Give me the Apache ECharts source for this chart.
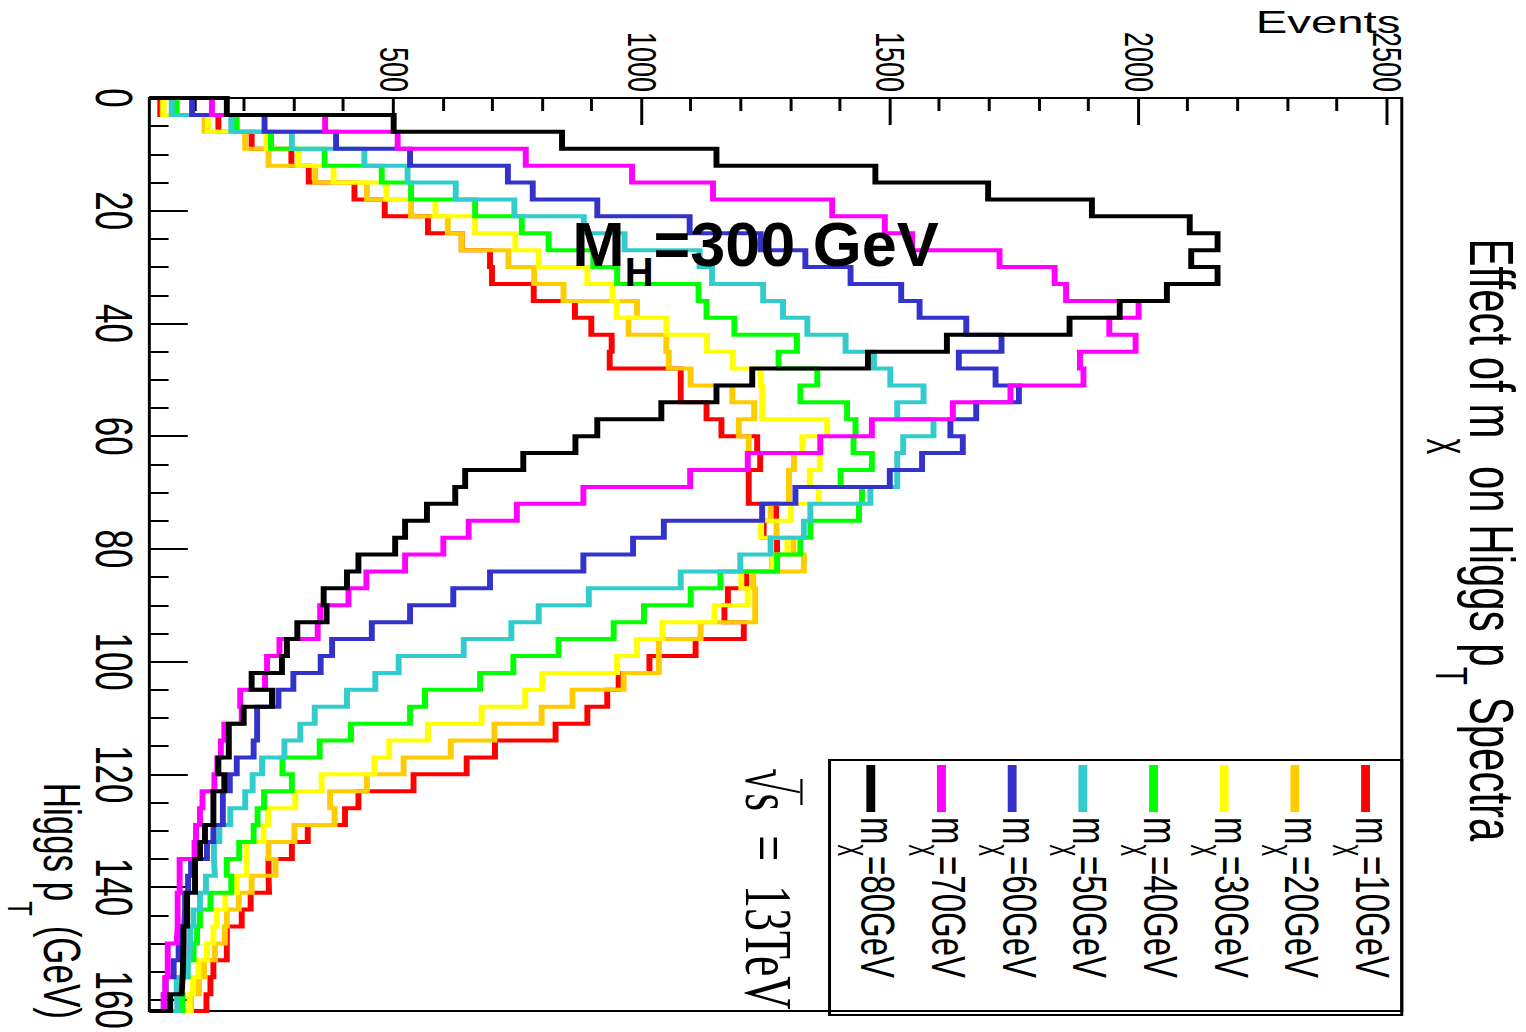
<!DOCTYPE html>
<html>
<head>
<meta charset="utf-8">
<script src="https://cdn.jsdelivr.net/npm/echarts@6/dist/echarts.min.js"></script>
<style>
html,body{margin:0;padding:0;background:#fff;overflow:hidden;width:1526px;height:1032px;}
/* ROOT canvas is square, rotated 90deg clockwise and stretched horizontally */
#chart{position:absolute;left:0;top:0;width:1032px;height:1032px;transform-origin:0 0;
  transform:scaleX(1.47868) translateX(1032px) rotate(90deg);}
</style>
</head>
<body>
<div id="chart"></div>
<script>
// ---------------- data ----------------
const BIN_WIDTH = 3;          // GeV per bin
const PT_MIN = 0, PT_MAX = 162;
const EV_MIN = 8, EV_MAX = 2530;

const ptTickLabels = [0, 20, 40, 60, 80, 100, 120, 140, 160];
const ptMinorTicks = [5,10,15,25,30,35,45,50,55,65,70,75,85,90,95,105,110,115,125,130,135,145,150,155];
const evTickLabels = [500, 1000, 1500, 2000, 2500];
const evMinorTicks = [100,200,300,400,600,700,800,900,1100,1200,1300,1400,1600,1700,1800,1900,2100,2200,2300,2400];

const mxValues = ['10', '20', '30', '40', '50', '60', '70', '80'];
const mxColors = ['#ff0000', '#ffcc00', '#ffff00', '#00ff00', '#33cccc', '#3333cc', '#ff00ff', '#000000'];

const h_mx10 = [30,147,214,294,329,421,482,569,637,694,698,782,865,898,939,935,1078,1078,1130,1160,1232,1238,1215,1215,1270,1245,1272,1263,1210,1173,1166,1205,1108,1015,953,930,890,826,704,647,540,429,402,327,295,248,249,212,194,164,164,137,131,123];
const h_mx20 = [35,119,201,248,342,446,535,609,637,731,783,842,990,973,1049,1054,1098,1182,1226,1195,1215,1306,1296,1296,1259,1271,1305,1326,1224,1228,1228,1118,1034,1034,963,860,798,703,615,520,446,372,381,300,248,262,214,188,164,160,140,118,108,92];
const h_mx30 = [37,126,244,308,379,485,584,664,745,792,890,941,949,1049,1131,1183,1239,1242,1242,1373,1323,1358,1338,1356,1300,1240,1293,1263,1200,1213,1146,1041,990,950,799,765,677,569,491,461,355,302,247,238,204,204,184,161,144,137,124,107,96,89];
const h_mx40 = [63,184,253,361,476,535,664,758,812,902,950,1114,1130,1186,1312,1275,1353,1319,1413,1430,1426,1463,1400,1443,1437,1339,1319,1272,1158,1098,1004,943,832,741,674,563,533,414,351,276,295,239,226,218,189,164,173,131,110,104,97,85,65,75];
const h_mx50 = [53,173,295,441,528,625,743,883,965,1116,1141,1244,1284,1333,1410,1467,1500,1567,1514,1587,1526,1514,1514,1460,1339,1326,1259,1198,1078,893,792,737,641,510,463,406,341,312,280,235,216,201,171,149,138,140,122,110,97,90,88,85,63,65];
const h_mx60 = [94,240,384,533,730,780,910,1096,1239,1329,1420,1522,1559,1653,1724,1638,1712,1759,1673,1621,1646,1564,1499,1309,1242,1044,982,882,694,620,533,456,376,353,298,268,225,225,218,184,170,156,156,137,124,92,86,80,78,75,67,57,41,37];
const h_mx70 = [134,362,508,766,980,1143,1383,1489,1544,1720,1831,1854,2000,1941,1994,1882,1889,1742,1626,1463,1359,1213,1097,882,748,651,600,523,445,409,352,347,270,245,241,191,194,159,152,145,139,115,110,102,99,69,69,65,65,63,45,45,40,37];
const h_mx80 = [164,500,839,1150,1470,1697,1906,2103,2159,2106,2159,2057,1962,1861,1614,1455,1222,1150,1039,910,866,761,644,624,567,523,503,429,406,359,365,306,285,275,214,255,198,168,168,147,159,137,137,120,110,100,100,84,84,77,76,75,73,50];

const histos = [h_mx10, h_mx20, h_mx30, h_mx40, h_mx50, h_mx60, h_mx70, h_mx80];

// ---------------- chart ----------------
const FONT = "'Liberation Sans', Arial, Helvetica, sans-serif";
const SERIF = "'Liberation Serif', 'Times New Roman', serif";
const STRETCH = 1.47868;

function stepPoints(vals) {
  const pts = [[PT_MIN, EV_MIN]];
  vals.forEach((v, i) => {
    pts.push([i * BIN_WIDTH, v]);
    pts.push([(i + 1) * BIN_WIDTH, v]);
  });
  pts.push([vals.length * BIN_WIDTH, EV_MIN]);
  return pts;
}

const names = mxValues.map(m => 'mχ=' + m + 'GeV');

const series = histos.map((h, i) => ({
  name: names[i],
  type: 'line',
  xAxisIndex: 0,
  yAxisIndex: 0,
  data: stepPoints(h),
  symbol: 'none',
  showSymbol: false,
  clip: true,
  color: mxColors[i],
  itemStyle: { color: mxColors[i] },
  lineStyle: { color: mxColors[i], width: 4, join: 'miter', cap: 'butt' },
  emphasis: { disabled: true },
  z: 2 + i
}));

const chart = echarts.init(document.getElementById('chart'), null, { renderer: 'svg', width: 1032, height: 1032 });

const LEG_LH = 52;
const plainLabel = v => String(v);

chart.setOption({
  animation: false,
  backgroundColor: '#ffffff',
  grid: { left: 98, top: 84, width: 917, height: 847, show: true, borderColor: '#000', borderWidth: 2, backgroundColor: 'transparent' },
  xAxis: [
    {
      type: 'value', min: PT_MIN, max: PT_MAX, position: 'bottom',
      axisLine: { show: false }, splitLine: { show: false },
      axisTick: { show: true, inside: true, length: 26, customValues: ptTickLabels, lineStyle: { color: '#000', width: 2 } },
      axisLabel: { customValues: ptTickLabels, formatter: plainLabel, fontSize: 35, fontFamily: FONT, color: '#000', margin: 6 }
    },
    {
      type: 'value', min: PT_MIN, max: PT_MAX, position: 'bottom', offset: 0,
      axisLine: { show: false }, splitLine: { show: false }, axisLabel: { show: false },
      axisTick: { show: true, inside: true, length: 13, customValues: ptMinorTicks, lineStyle: { color: '#000', width: 2 } }
    }
  ],
  yAxis: [
    {
      type: 'value', min: EV_MIN, max: EV_MAX, position: 'left',
      axisLine: { show: false }, splitLine: { show: false },
      axisTick: { show: true, inside: true, length: 27, customValues: evTickLabels, lineStyle: { color: '#000', width: 2 } },
      axisLabel: { customValues: evTickLabels, formatter: plainLabel, fontSize: 27, fontFamily: FONT, color: '#000', margin: 6 }
    },
    {
      type: 'value', min: EV_MIN, max: EV_MAX, position: 'left', offset: 0,
      axisLine: { show: false }, splitLine: { show: false }, axisLabel: { show: false },
      axisTick: { show: true, inside: true, length: 13, customValues: evMinorTicks, lineStyle: { color: '#000', width: 2 } }
    }
  ],
  legend: {
    orient: 'vertical', left: 765, top: 87, padding: 0,
    itemWidth: 47, itemHeight: 6, itemGap: 5.3, icon: 'rect',
    data: names,
    selectedMode: false,
    formatter: function (name) {
      const m = name.replace('mχ=', '');
      return '{m|m}{s|χ}{m|=' + m + '}';
    },
    textStyle: {
      color: '#000', fontFamily: FONT, padding: [0, 0, 10, 0],
      rich: {
        m: { fontSize: 33, fontFamily: FONT, color: '#000', lineHeight: LEG_LH },
        s: { fontSize: 22, fontFamily: FONT, color: '#000', lineHeight: 30, verticalAlign: 'bottom' }
      }
    }
  },
  graphic: [
    // legend frame
    { type: 'rect', shape: { x: 760, y: 84, width: 255, height: 387 }, style: { fill: 'none', stroke: '#000', lineWidth: 2 }, z: 50 },
    // title
    {
      type: 'text', x: 540, y: 23.5, z: 60,
      style: {
        text: '{t|Effect of m}{s|χ}{t| on Higgs p}{s|T}{t| Spectra}',
        align: 'center', verticalAlign: 'middle', fill: '#000',
        rich: {
          t: { fontSize: 42, fontFamily: FONT, fill: '#000', lineHeight: 84 },
          s: { fontSize: 30, fontFamily: FONT, fill: '#000', lineHeight: 30, verticalAlign: 'bottom' }
        }
      }
    },
    // x axis title
    {
      type: 'text', x: 1019, y: 990, z: 60,
      style: {
        text: '{t|Higgs p}{s|T}{t| (GeV)}',
        align: 'right', verticalAlign: 'middle', fill: '#000',
        rich: {
          t: { fontSize: 35, fontFamily: FONT, fill: '#000', lineHeight: 80 },
          s: { fontSize: 24, fontFamily: FONT, fill: '#000', lineHeight: 24, verticalAlign: 'bottom' }
        }
      }
    },
    // y axis title
    {
      type: 'text', x: 22, y: 85, rotation: Math.PI / 2, z: 60,
      style: { text: 'Events', fontSize: 32, fontFamily: FONT, fill: '#000', align: 'right', verticalAlign: 'middle' }
    },
    // M_H annotation (unstretched on screen)
    {
      type: 'text', x: 244, y: 645, rotation: Math.PI / 2, scaleX: 1 / STRETCH, scaleY: 1, z: 70,
      style: {
        text: '{a|M}{b|H}{a|=300 GeV}',
        align: 'left', verticalAlign: 'middle', fill: '#000',
        rich: {
          a: { fontSize: 63, fontWeight: 'bold', fontFamily: FONT, fill: '#000', lineHeight: 96 },
          b: { fontSize: 40, fontWeight: 'bold', fontFamily: FONT, fill: '#000', lineHeight: 40, verticalAlign: 'bottom' }
        }
      }
    },
    // sqrt(s) = 13 TeV
    {
      type: 'text', x: 768, y: 512, z: 60,
      style: {
        text: '{a|√s}{b|=}{a|13TeV}',
        align: 'left', verticalAlign: 'middle', fill: '#000',
        rich: {
          a: { fontSize: 46, fontFamily: SERIF, fill: '#000' },
          b: { fontSize: 46, fontFamily: SERIF, fill: '#000', padding: [0, 24, 0, 24] }
        }
      }
    },
    { type: 'line', shape: { x1: 779, y1: 490, x2: 805, y2: 490 }, style: { stroke: '#000', lineWidth: 1.5 }, z: 60 }
  ],
  series: series
});
</script>
</body>
</html>
